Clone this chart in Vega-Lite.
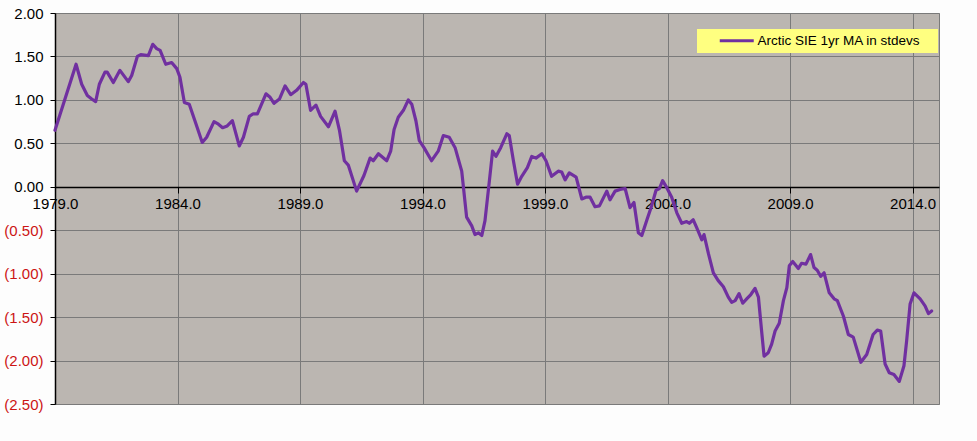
{
  "$schema": "https://vega.github.io/schema/vega-lite/v6.json",
  "width": 884,
  "height": 391,
  "autosize": {"type": "none"},
  "padding": {"left": 55, "top": 13, "right": 38, "bottom": 37},
  "background": "#fdfdfd",
  "config": {
    "view": {"fill": "#bbb6b1", "stroke": "#7a7a7a", "strokeWidth": 1},
    "font": "Liberation Sans"
  },
  "data": {
    "values": [
      {"t": 1979.00, "v": 0.65}, {"t": 1979.86, "v": 1.41}, {"t": 1980.09, "v": 1.18}, {"t": 1980.32, "v": 1.05},
      {"t": 1980.50, "v": 1.01}, {"t": 1980.66, "v": 0.98}, {"t": 1980.81, "v": 1.18}, {"t": 1981.04, "v": 1.32},
      {"t": 1981.13, "v": 1.32}, {"t": 1981.38, "v": 1.20}, {"t": 1981.65, "v": 1.34}, {"t": 1981.99, "v": 1.21},
      {"t": 1982.13, "v": 1.28}, {"t": 1982.36, "v": 1.50}, {"t": 1982.50, "v": 1.52}, {"t": 1982.81, "v": 1.51},
      {"t": 1982.99, "v": 1.64}, {"t": 1983.15, "v": 1.59}, {"t": 1983.29, "v": 1.57}, {"t": 1983.52, "v": 1.41},
      {"t": 1983.76, "v": 1.43}, {"t": 1983.97, "v": 1.36}, {"t": 1984.10, "v": 1.26}, {"t": 1984.28, "v": 0.97},
      {"t": 1984.48, "v": 0.95}, {"t": 1984.71, "v": 0.76}, {"t": 1985.01, "v": 0.51}, {"t": 1985.19, "v": 0.57},
      {"t": 1985.49, "v": 0.75}, {"t": 1985.67, "v": 0.72}, {"t": 1985.84, "v": 0.68}, {"t": 1986.03, "v": 0.70},
      {"t": 1986.24, "v": 0.76}, {"t": 1986.52, "v": 0.47}, {"t": 1986.69, "v": 0.57}, {"t": 1986.93, "v": 0.81},
      {"t": 1987.09, "v": 0.84}, {"t": 1987.26, "v": 0.84}, {"t": 1987.37, "v": 0.91}, {"t": 1987.61, "v": 1.07},
      {"t": 1987.78, "v": 1.03}, {"t": 1987.94, "v": 0.96}, {"t": 1988.16, "v": 1.01}, {"t": 1988.39, "v": 1.16},
      {"t": 1988.62, "v": 1.06}, {"t": 1988.86, "v": 1.11}, {"t": 1989.14, "v": 1.20}, {"t": 1989.24, "v": 1.18},
      {"t": 1989.43, "v": 0.88}, {"t": 1989.65, "v": 0.94}, {"t": 1989.84, "v": 0.81}, {"t": 1990.16, "v": 0.69},
      {"t": 1990.43, "v": 0.87}, {"t": 1990.61, "v": 0.65}, {"t": 1990.81, "v": 0.30}, {"t": 1990.97, "v": 0.25},
      {"t": 1991.31, "v": -0.05}, {"t": 1991.61, "v": 0.13}, {"t": 1991.86, "v": 0.33}, {"t": 1991.99, "v": 0.30},
      {"t": 1992.20, "v": 0.38}, {"t": 1992.54, "v": 0.30}, {"t": 1992.70, "v": 0.41}, {"t": 1992.84, "v": 0.66},
      {"t": 1993.01, "v": 0.80}, {"t": 1993.22, "v": 0.88}, {"t": 1993.42, "v": 1.00}, {"t": 1993.56, "v": 0.95},
      {"t": 1993.73, "v": 0.76}, {"t": 1993.87, "v": 0.53}, {"t": 1994.06, "v": 0.45}, {"t": 1994.37, "v": 0.30},
      {"t": 1994.64, "v": 0.41}, {"t": 1994.85, "v": 0.59}, {"t": 1995.09, "v": 0.57}, {"t": 1995.33, "v": 0.45},
      {"t": 1995.60, "v": 0.18}, {"t": 1995.80, "v": -0.35}, {"t": 1996.01, "v": -0.45}, {"t": 1996.14, "v": -0.55},
      {"t": 1996.28, "v": -0.53}, {"t": 1996.42, "v": -0.56}, {"t": 1996.55, "v": -0.39}, {"t": 1996.73, "v": 0.07},
      {"t": 1996.86, "v": 0.41}, {"t": 1997.00, "v": 0.35}, {"t": 1997.19, "v": 0.45}, {"t": 1997.44, "v": 0.61},
      {"t": 1997.54, "v": 0.59}, {"t": 1997.71, "v": 0.30}, {"t": 1997.88, "v": 0.03}, {"t": 1998.05, "v": 0.12},
      {"t": 1998.28, "v": 0.22}, {"t": 1998.46, "v": 0.35}, {"t": 1998.63, "v": 0.33}, {"t": 1998.87, "v": 0.38},
      {"t": 1999.04, "v": 0.30}, {"t": 1999.27, "v": 0.12}, {"t": 1999.54, "v": 0.18}, {"t": 1999.68, "v": 0.17},
      {"t": 1999.82, "v": 0.08}, {"t": 1999.99, "v": 0.16}, {"t": 2000.27, "v": 0.11}, {"t": 2000.50, "v": -0.14},
      {"t": 2000.67, "v": -0.12}, {"t": 2000.84, "v": -0.12}, {"t": 2001.04, "v": -0.23}, {"t": 2001.22, "v": -0.22},
      {"t": 2001.52, "v": -0.05}, {"t": 2001.65, "v": -0.15}, {"t": 2001.86, "v": -0.05}, {"t": 2002.06, "v": -0.03},
      {"t": 2002.27, "v": -0.02}, {"t": 2002.47, "v": -0.24}, {"t": 2002.63, "v": -0.18}, {"t": 2002.81, "v": -0.53},
      {"t": 2002.95, "v": -0.56}, {"t": 2003.17, "v": -0.37}, {"t": 2003.35, "v": -0.22}, {"t": 2003.53, "v": -0.04},
      {"t": 2003.67, "v": -0.02}, {"t": 2003.80, "v": 0.07}, {"t": 2003.97, "v": -0.01}, {"t": 2004.17, "v": -0.12},
      {"t": 2004.38, "v": -0.30}, {"t": 2004.58, "v": -0.42}, {"t": 2004.78, "v": -0.40}, {"t": 2004.89, "v": -0.42},
      {"t": 2005.05, "v": -0.38}, {"t": 2005.19, "v": -0.47}, {"t": 2005.40, "v": -0.61}, {"t": 2005.49, "v": -0.55},
      {"t": 2005.67, "v": -0.77}, {"t": 2005.87, "v": -0.99}, {"t": 2006.07, "v": -1.08}, {"t": 2006.28, "v": -1.15},
      {"t": 2006.48, "v": -1.27}, {"t": 2006.62, "v": -1.33}, {"t": 2006.76, "v": -1.31}, {"t": 2006.92, "v": -1.23},
      {"t": 2007.07, "v": -1.34}, {"t": 2007.23, "v": -1.29}, {"t": 2007.40, "v": -1.24}, {"t": 2007.57, "v": -1.17},
      {"t": 2007.71, "v": -1.27}, {"t": 2007.84, "v": -1.66}, {"t": 2007.94, "v": -1.95}, {"t": 2008.11, "v": -1.91},
      {"t": 2008.25, "v": -1.81}, {"t": 2008.39, "v": -1.66}, {"t": 2008.56, "v": -1.57}, {"t": 2008.73, "v": -1.31},
      {"t": 2008.87, "v": -1.16}, {"t": 2008.97, "v": -0.91}, {"t": 2009.11, "v": -0.86}, {"t": 2009.34, "v": -0.94},
      {"t": 2009.47, "v": -0.88}, {"t": 2009.65, "v": -0.89}, {"t": 2009.84, "v": -0.78}, {"t": 2009.98, "v": -0.93},
      {"t": 2010.11, "v": -0.96}, {"t": 2010.25, "v": -1.03}, {"t": 2010.39, "v": -0.99}, {"t": 2010.60, "v": -1.22},
      {"t": 2010.80, "v": -1.29}, {"t": 2010.93, "v": -1.31}, {"t": 2011.18, "v": -1.49}, {"t": 2011.38, "v": -1.70},
      {"t": 2011.58, "v": -1.73}, {"t": 2011.89, "v": -2.02}, {"t": 2012.13, "v": -1.93}, {"t": 2012.39, "v": -1.70},
      {"t": 2012.56, "v": -1.65}, {"t": 2012.70, "v": -1.66}, {"t": 2012.88, "v": -2.04}, {"t": 2013.05, "v": -2.14},
      {"t": 2013.24, "v": -2.16}, {"t": 2013.46, "v": -2.24}, {"t": 2013.65, "v": -2.06}, {"t": 2013.76, "v": -1.77},
      {"t": 2013.90, "v": -1.35}, {"t": 2014.06, "v": -1.22}, {"t": 2014.31, "v": -1.29}, {"t": 2014.51, "v": -1.37},
      {"t": 2014.65, "v": -1.46}, {"t": 2014.78, "v": -1.43}
    ]
  },
  "mark": {"type": "line", "strokeWidth": 3.2, "interpolate": "linear", "strokeJoin": "round", "strokeCap": "round"},
  "encoding": {
    "x": {
      "field": "t",
      "type": "quantitative",
      "scale": {"domain": [1979, 2015.08], "nice": false, "zero": false},
      "axis": {
        "title": null,
        "values": [1979, 1984, 1989, 1994, 1999, 2004, 2009, 2014],
        "format": ".1f",
        "offset": -217,
        "grid": true,
        "gridColor": "#7a7a7a",
        "gridWidth": 1,
        "domainColor": "black",
        "domainWidth": 1.5,
        "tickColor": "black",
        "tickSize": 6,
        "labelFontSize": 15,
        "labelColor": "black",
        "labelPadding": 3,
        "labelFlush": false,
        "labelOverlap": false
      }
    },
    "y": {
      "field": "v",
      "type": "quantitative",
      "scale": {"domain": [-2.5, 2], "nice": false, "zero": false},
      "axis": {
        "title": null,
        "values": [-2.5, -2, -1.5, -1, -0.5, 0, 0.5, 1, 1.5, 2],
        "labelExpr": "datum.value < 0 ? '(' + format(-datum.value, '.2f') + ')' : format(datum.value, '.2f')",
        "labelColor": {"expr": "datum.value < 0 ? '#cc1414' : 'black'"},
        "labelFontSize": 15,
        "labelPadding": 7,
        "tickSize": 5,
        "tickColor": "black",
        "domainColor": "black",
        "domainWidth": 1.5,
        "grid": true,
        "gridColor": "#7a7a7a",
        "gridWidth": 1,
        "labelOverlap": false
      }
    },
    "color": {
      "datum": "Arctic SIE 1yr MA in stdevs",
      "type": "nominal",
      "scale": {"range": ["#7030a0"]},
      "legend": {
        "title": " ",
        "titleOrient": "right",
        "titlePadding": 13,
        "titleFontSize": 13.5,
        "orient": "none",
        "legendX": 642,
        "legendY": 16,
        "fillColor": "#ffff80",
        "padding": 5,
        "symbolType": "M-3.4,0H3.4",
        "symbolSize": 100,
        "symbolStrokeWidth": 3,
        "symbolStrokeColor": "#5a2a80",
        "symbolOffset": 28,
        "labelOffset": 14,
        "labelFontSize": 13.5,
        "labelColor": "black",
        "labelLimit": 300
      }
    }
  }
}
